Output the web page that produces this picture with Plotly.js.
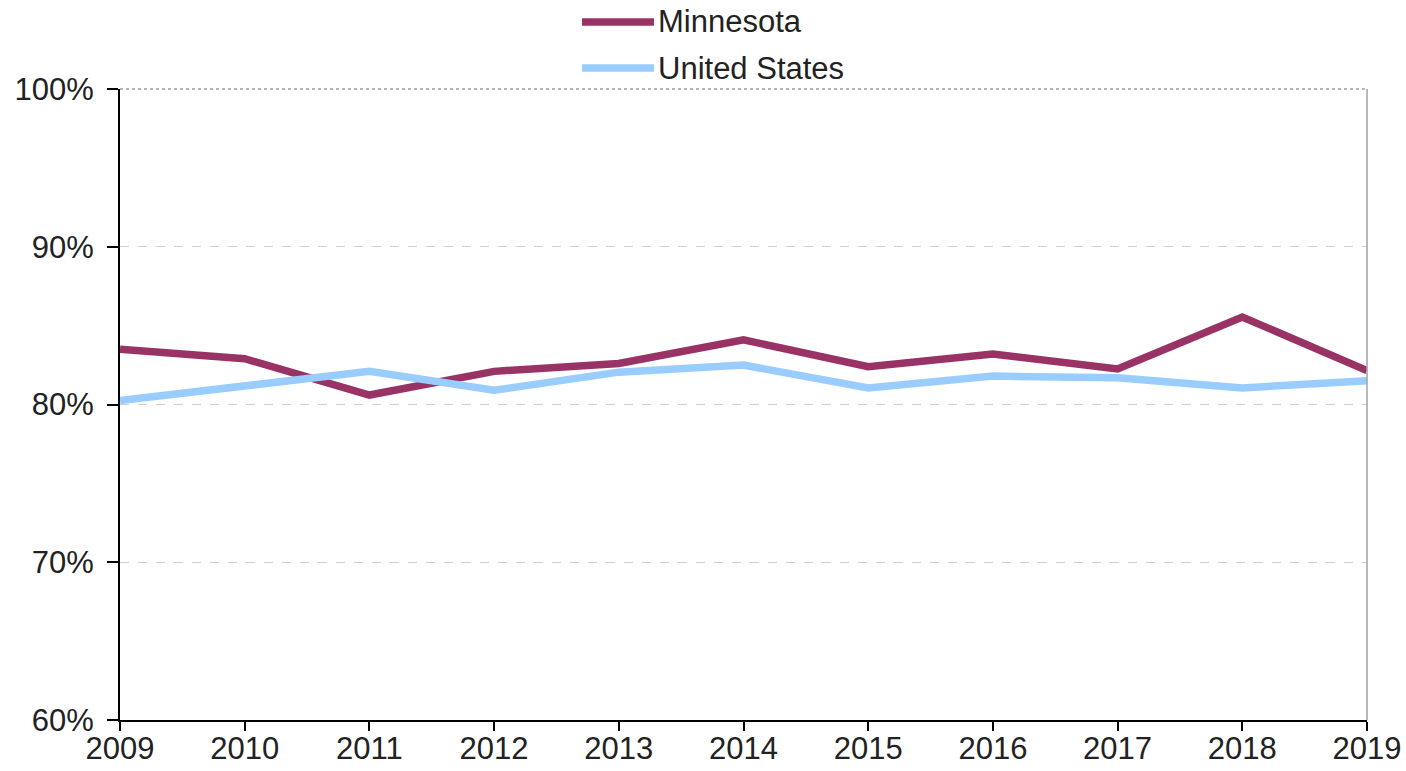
<!DOCTYPE html>
<html>
<head>
<meta charset="utf-8">
<script src="https://cdn.plot.ly/plotly-3.0.1.min.js"></script>
<style>html,body{margin:0;padding:0;background:#fff;}#chart{width:1406px;height:771px;}</style>
</head>
<body>
<div id="chart"></div>
<script>
const years = [2009, 2010, 2011, 2012, 2013, 2014, 2015, 2016, 2017, 2018, 2019];
const minnesota = [83.5, 82.9, 80.6, 82.1, 82.6, 84.1, 82.4, 83.2, 82.25, 85.55, 82.15];
const unitedStates = [80.25, 81.2, 82.1, 80.9, 82.05, 82.5, 81.05, 81.8, 81.7, 81.05, 81.5];
const yTicks = [60, 70, 80, 90, 100];
const seriesNames = ['Minnesota', 'United States'];
const seriesColors = ['#993366', '#99CCFF'];

const font = 'Liberation Sans, Arial, sans-serif';
const fsize = 31;

const traces = [
  {x: years, y: minnesota, name: seriesNames[0], mode: 'lines', line: {color: seriesColors[0], width: 7.5}},
  {x: years, y: unitedStates, name: seriesNames[1], mode: 'lines', line: {color: seriesColors[1], width: 7.5}}
];

// custom legend (plot area: x 120..1367, y 89..720 px)
const L = 120, W = 1247, B = 720, H = 631;
const px = v => (v - L) / W;
const py = v => (B - v) / H;
const legendY = [22, 68];
const shapes = [
  {type: 'line', xref: 'paper', yref: 'paper', x0: 0, x1: 1, y0: 1, y1: 1, line: {color: '#a0a0a0', width: 1.5, dash: 'dot'}},
  {type: 'line', xref: 'paper', yref: 'paper', x0: 1, x1: 1, y0: 0, y1: 1, line: {color: '#a0a0a0', width: 1.5}}
];
const annotations = [];
seriesNames.forEach((n, i) => {
  shapes.push({type: 'line', xref: 'paper', yref: 'paper', x0: px(582), x1: px(654), y0: py(legendY[i]), y1: py(legendY[i]),
               line: {color: seriesColors[i], width: 7.5}});
  annotations.push({xref: 'paper', yref: 'paper', x: px(656), y: py(legendY[i]), xanchor: 'left', yanchor: 'middle',
                    text: n, showarrow: false, font: {family: font, size: fsize, color: '#222'}});
});

const layout = {
  width: 1406, height: 771,
  margin: {l: 120, r: 39, t: 89, b: 51},
  paper_bgcolor: '#fff', plot_bgcolor: '#fff',
  font: {family: font, size: fsize, color: '#222'},
  showlegend: false,
  xaxis: {
    range: [2009, 2019], tickmode: 'array', tickvals: years, ticktext: years.map(String),
    showgrid: false, zeroline: false, showline: true, linecolor: '#000', linewidth: 2,
    ticks: 'outside', ticklen: 9, tickwidth: 2, tickcolor: '#000', ticklabelstandoff: -9,
    tickfont: {family: font, size: fsize, color: '#222'}
  },
  yaxis: {
    range: [60, 100], tickmode: 'array', tickvals: yTicks, ticktext: yTicks.map(v => v + '%'),
    showgrid: true, gridcolor: '#cfcfcf', griddash: 'dash', gridwidth: 1,
    zeroline: false, showline: true, linecolor: '#000', linewidth: 2,
    ticks: 'outside', ticklen: 11, tickwidth: 2, tickcolor: '#000', ticklabelstandoff: 7,
    tickfont: {family: font, size: fsize, color: '#222'}
  },
  shapes: shapes,
  annotations: annotations
};

Plotly.newPlot('chart', traces, layout, {displayModeBar: false, staticPlot: true});
</script>
</body>
</html>
